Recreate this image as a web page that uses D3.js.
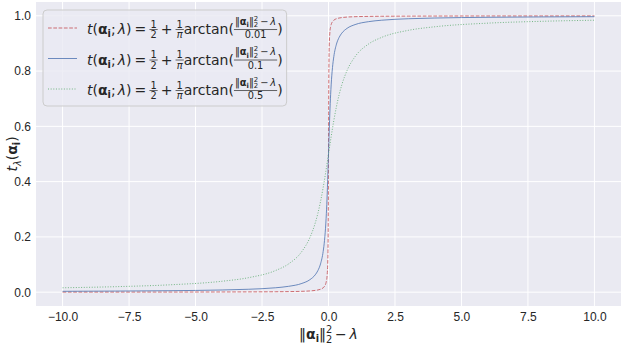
<!DOCTYPE html>
<html>
<head>
<meta charset="utf-8">
<script src="https://cdn.jsdelivr.net/npm/d3@7"></script>
<style>
  body { margin: 0; background: #fff; }
  svg { display: block; }
  text { fill: #262626; }
</style>
</head>
<body>
<svg width="623" height="343"></svg>
<script>
// x samples (||a_i||^2 - lambda) and curve values
const xs = [-10, -8, -6, -4, -3, -2, -1.5, -1, -0.7, -0.5, -0.4, -0.3, -0.2, -0.15, -0.1, -0.08, -0.05, -0.03, -0.02, -0.01, -0.005,
  0, 0.005, 0.01, 0.02, 0.03, 0.05, 0.08, 0.1, 0.15, 0.2, 0.3, 0.4, 0.5, 0.7, 1, 1.5, 2, 3, 4, 6, 8, 10];
const ySharp = [0.0003, 0.0004, 0.0005, 0.0008, 0.0011, 0.0016, 0.0021, 0.0032, 0.0045, 0.0064, 0.0080, 0.0106, 0.0159, 0.0212, 0.0317, 0.0396, 0.0628, 0.1024, 0.1476, 0.25, 0.3524,
  0.5, 0.6476, 0.75, 0.8524, 0.8976, 0.9372, 0.9604, 0.9683, 0.9788, 0.9841, 0.9894, 0.9920, 0.9936, 0.9955, 0.9968, 0.9979, 0.9984, 0.9989, 0.9992, 0.9995, 0.9996, 0.9997];
const yMid = [0.0032, 0.0040, 0.0053, 0.0080, 0.0106, 0.0159, 0.0212, 0.0317, 0.0452, 0.0628, 0.0780, 0.1024, 0.1476, 0.1872, 0.25, 0.2852, 0.3524, 0.4072, 0.4372, 0.4683, 0.4841,
  0.5, 0.5159, 0.5317, 0.5628, 0.5928, 0.6476, 0.7148, 0.75, 0.8128, 0.8524, 0.8976, 0.9220, 0.9372, 0.9548, 0.9683, 0.9788, 0.9841, 0.9894, 0.9920, 0.9947, 0.9960, 0.9968];
const ySoft = [0.0159, 0.0199, 0.0265, 0.0396, 0.0526, 0.0780, 0.1024, 0.1476, 0.1974, 0.25, 0.2852, 0.3280, 0.3789, 0.4072, 0.4372, 0.4495, 0.4683, 0.4809, 0.4873, 0.4936, 0.4968,
  0.5, 0.5032, 0.5064, 0.5127, 0.5191, 0.5317, 0.5505, 0.5628, 0.5928, 0.6211, 0.6720, 0.7148, 0.75, 0.8026, 0.8524, 0.8976, 0.9220, 0.9474, 0.9604, 0.9735, 0.9801, 0.9841];
const denoms = ["0.01", "0.1", "0.5"];
const xTicks = [-10, -7.5, -5, -2.5, 0, 2.5, 5, 7.5, 10];
const yTicks = [0, 0.2, 0.4, 0.6, 0.8, 1.0];

const svg = d3.select("svg");
const pl = 36, pr = 621, pt = 2, pb = 306;

const x = d3.scaleLinear().domain([-11, 11]).range([pl, pr]);
const y = d3.scaleLinear().domain([-0.05, 1.05]).range([pb, pt]);

svg.append("rect").attr("x", pl).attr("y", pt)
  .attr("width", pr - pl).attr("height", pb - pt)
  .attr("fill", "#eaeaf2");

// grid
svg.append("g").selectAll("line").data(xTicks).enter().append("line")
  .attr("x1", d => x(d)).attr("x2", d => x(d))
  .attr("y1", pt).attr("y2", pb)
  .attr("stroke", "#fff").attr("stroke-width", 1);
svg.append("g").selectAll("line").data(yTicks).enter().append("line")
  .attr("x1", pl).attr("x2", pr)
  .attr("y1", d => y(d)).attr("y2", d => y(d))
  .attr("stroke", "#fff").attr("stroke-width", 1);

// axes (no ticks, no domain line)
const xAxis = svg.append("g").attr("transform", "translate(0," + pb + ")")
  .call(d3.axisBottom(x).tickValues(xTicks).tickSize(0).tickPadding(6).tickFormat(d3.format(".1f")));
const yAxis = svg.append("g").attr("transform", "translate(" + pl + ",0)")
  .call(d3.axisLeft(y).tickValues(yTicks).tickSize(0).tickPadding(5).tickFormat(d3.format(".1f")));
[xAxis, yAxis].forEach(a => {
  a.select(".domain").remove();
  a.selectAll("text").attr("font-family", "Liberation Sans, Arial, sans-serif")
    .attr("font-size", 12).attr("fill", "#262626");
});

// curves
const series = [
  { ys: ySharp, color: "#c44e52", dash: "3.7,1.6" },
  { ys: yMid, color: "#4c72b0", dash: null },
  { ys: ySoft, color: "#55a868", dash: "1,1.65" }
];
const line = d3.line().x(d => x(d[0])).y(d => y(d[1])).curve(d3.curveMonotoneX);
series.forEach(s => {
  svg.append("path")
    .datum(xs.map((v, i) => [v, s.ys[i]]))
    .attr("d", line)
    .attr("fill", "none")
    .attr("stroke", s.color)
    .attr("stroke-opacity", 0.8)
    .attr("stroke-width", 1)
    .attr("stroke-dasharray", s.dash);
});

// --- little mathtext helpers ---
const MF = "DejaVu Sans, sans-serif";
function put(g, px, py, str, size, opt) {
  opt = opt || {};
  const t = g.append("text").attr("x", px).attr("y", py)
    .attr("font-family", MF).attr("font-size", size).text(str);
  if (opt.italic) t.attr("font-style", "italic");
  if (opt.bold) t.attr("font-weight", "bold");
  return t.node().getComputedTextLength();
}
function alphaI(g, px, py, S) {
  let w = put(g, px, py, "α", S, { bold: true });
  w += put(g, px + w, py + 0.22 * S, "i", 0.7 * S, { bold: true });
  return w;
}
function normSq(g, px, py, S) {
  let w = put(g, px, py, "‖", S);
  w += alphaI(g, px + w, py, S);
  w += put(g, px + w, py, "‖", S);
  const a = put(g, px + w, py - 0.42 * S, "2", 0.7 * S);
  const b = put(g, px + w, py + 0.25 * S, "2", 0.7 * S);
  return w + Math.max(a, b);
}
function frac(g, px, py, S, drawNum, drawDen, numDrop) {
  const fs = 0.7 * S;
  const tmp = g.append("g");
  const wn = drawNum(tmp, 0, 0, fs);
  const wd = drawDen(tmp, 0, 0, fs);
  tmp.remove();
  const w = Math.max(wn, wd) + 2;
  const ax = py - 0.32 * S;
  drawNum(g, px + (w - wn) / 2, ax - 1.6 - (numDrop || 0) * fs, fs);
  drawDen(g, px + (w - wd) / 2, ax + 0.62 * S, fs);
  g.append("line").attr("x1", px).attr("x2", px + w).attr("y1", ax).attr("y2", ax)
    .attr("stroke", "#262626").attr("stroke-width", 0.7);
  return w;
}
const txt = s => (g, px, py, fs) => put(g, px, py, s, fs);
const normNum = (g, px, py, fs) => {
  let w = normSq(g, px, py, fs);
  w += fs * 0.2;
  w += put(g, px + w, py, "−", fs);
  w += fs * 0.2;
  w += put(g, px + w, py, "λ", fs, { italic: true });
  return w;
};

function formula(g, px, py, S, den) {
  let cx = px;
  cx += put(g, cx, py, "t", S, { italic: true });
  cx += put(g, cx, py, "(", S);
  cx += alphaI(g, cx, py, S);
  cx += put(g, cx, py, ";", S);
  cx += 0.15 * S;
  cx += put(g, cx, py, "λ", S, { italic: true });
  cx += put(g, cx, py, ")", S);
  cx += 0.22 * S;
  cx += put(g, cx, py, "=", S);
  cx += 0.22 * S;
  cx += frac(g, cx, py, S, txt("1"), txt("2"));
  cx += 0.22 * S;
  cx += put(g, cx, py, "+", S);
  cx += 0.22 * S;
  cx += frac(g, cx, py, S, txt("1"), (gg, a, b, fs) => put(gg, a, b, "π", fs, { italic: true }));
  cx += put(g, cx, py, "arctan(", S);
  cx += frac(g, cx, py, S, normNum, txt(den), 0.3);
  cx += put(g, cx, py, ")", S);
  return cx - px;
}

// legend
const lg = svg.append("g");
const box = lg.append("rect").attr("x", 43).attr("y", 10).attr("width", 245).attr("height", 96)
  .attr("rx", 4).attr("fill", "#eaeaf2").attr("fill-opacity", 0.8)
  .attr("stroke", "#cccccc").attr("stroke-width", 1);
const rowY = [34, 64.5, 95];
let maxW = 0;
series.forEach((s, i) => {
  lg.append("line").attr("x1", 48).attr("x2", 77)
    .attr("y1", rowY[i] - 6).attr("y2", rowY[i] - 6)
    .attr("stroke", s.color).attr("stroke-opacity", 0.8).attr("stroke-width", 1)
    .attr("stroke-dasharray", s.dash);
  maxW = Math.max(maxW, formula(lg, 87, rowY[i], 14, denoms[i]));
});
box.attr("width", 87 + maxW + 4 - 43);

// x label
const xl = svg.append("g");
const xw = normNum(xl, 0, 0, 14);
xl.attr("transform", "translate(" + (x(0) - xw / 2) + ",339)");

// y label: one text, centred on the axes
const ylab = svg.append("text")
  .attr("transform", "translate(17," + ((pt + pb) / 2) + ") rotate(-90)")
  .attr("text-anchor", "middle")
  .attr("font-family", MF).attr("font-size", 14);
ylab.append("tspan").attr("font-style", "italic").text("t");
ylab.append("tspan").attr("font-style", "italic").attr("font-size", 9.8).attr("dy", 3.5).text("λ");
ylab.append("tspan").attr("dy", -3.5).text("(");
ylab.append("tspan").attr("font-weight", "bold").text("α");
ylab.append("tspan").attr("font-weight", "bold").attr("font-size", 9.8).attr("dy", 3).text("i");
ylab.append("tspan").attr("dy", -3).text(")");
</script>
</body>
</html>
